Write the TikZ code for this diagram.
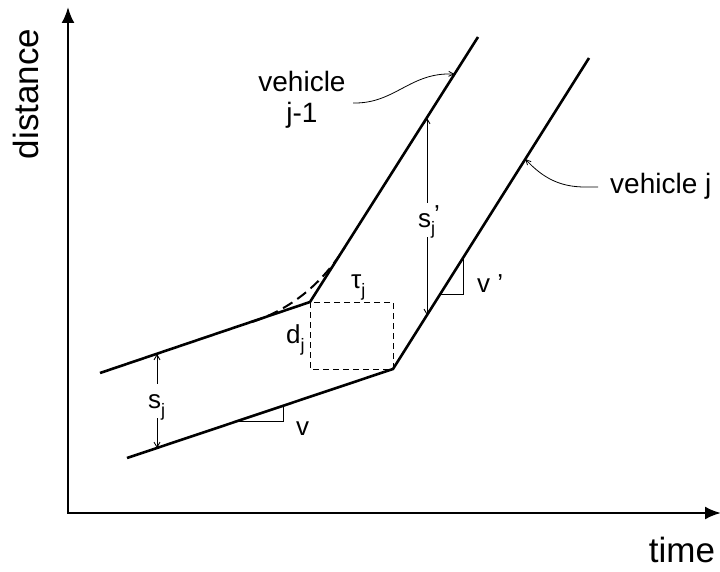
\documentclass[tikz,border=0pt]{standalone}
\usepackage{fontspec}
\setmainfont{Liberation Sans}
\usetikzlibrary{arrows.meta,calc}
\newcommand\lsub[1]{\rlap{\smash{\raisebox{-8pt}{\fontsize{18}{18}\selectfont #1}}}}
\newcommand\lprime{\rlap{\hspace{3pt}\smash{\raisebox{4pt}{’}}}}
\begin{document}
\begin{tikzpicture}[x=1pt,y=-1pt,
  traj/.style={line width=2.6pt,line join=miter},
  axisline/.style={line width=2.4pt,{Latex[length=16pt,width=13pt]}-{Latex[length=16pt,width=13pt]}},
  thinline/.style={line width=1pt},
  gaparrow/.style={line width=0.9pt,-{Straight Barb[length=5pt,width=6pt]}},
  leader/.style={line width=0.8pt,-{Straight Barb[length=5pt,width=5pt]}},
  lbl/.style={font=\fontsize{28}{31}\selectfont, inner sep=0pt},
  sym/.style={font=\fontsize{26}{30}\selectfont, inner xsep=0pt, inner ysep=10pt},
  axlbl/.style={font=\fontsize{35}{40}\selectfont, inner sep=0pt}]
\useasboundingbox (0,0) rectangle (720,572);
% axes
\coordinate (O) at (68,513);
\coordinate (Ytop) at (68,7);
\coordinate (Xend) at (721,513);
\draw[axisline] (Ytop) -- (O) -- (Xend);
\node[axlbl, rotate=90] (dist) at (26,94) {distance};
\node[axlbl] (time) at (682,550) {time};
% trajectories
\coordinate (L0) at (100,373);
\coordinate (LK) at (310,302);
\coordinate (L1) at (478,37);
\coordinate (F0) at (127,458);
\coordinate (FK) at (393,369);
\coordinate (F1) at (589,58);
\draw[traj] (L0) -- (LK) -- (L1);
\draw[traj] (F0) -- (FK) -- (F1);
% smooth dashed transition
\coordinate (C0) at (252,322);
\coordinate (C1) at (345,247);
\draw[line width=2pt, dash pattern=on 11pt off 6pt] (C0) .. controls (291,309) and (322,284) .. (C1);
% dashed rectangle
\draw[thinline, dash pattern=on 6pt off 4pt] (LK) rectangle (FK);
\node[sym, inner ysep=0pt, anchor=base west] (tau) at (351,288) {τ\lsub{j}};
\node[sym, inner ysep=0pt, anchor=base west] (d) at (286,343) {d\lsub{j}};
% spacing s_j
\coordinate (sjT) at (157,354);
\coordinate (sjB) at (157,448);
\node[sym, anchor=base west] (sj) at (148,408) {s\lsub{j}};
\draw[gaparrow] (sj.north -| sjT) -- (sjT);
\draw[gaparrow] (sj.south -| sjB) -- (sjB);
% spacing s_j'
\coordinate (spT) at (427,118);
\coordinate (spB) at (427,315);
\node[sym, anchor=base west] (sp) at (418,227) {s\lsub{j}\lprime};
\draw[gaparrow] (sp.north -| spT) -- (spT);
\draw[gaparrow] (sp.south -| spB) -- (spB);
% slope triangles
\coordinate (va) at (238,421);
\coordinate (vb) at (283,421);
\coordinate (vc) at (283,406);
\draw[thinline] (va) -- (vb) -- (vc);
\node[sym, inner ysep=0pt, anchor=base west] (v) at (296,435) {v};
\coordinate (wa) at (440,294);
\coordinate (wb) at (463,294);
\coordinate (wc) at (463,258);
\draw[thinline] (wa) -- (wb) -- (wc);
\node[sym, inner ysep=0pt, anchor=base west] (vp) at (477,292) {v ’};
% vehicle labels
\node[lbl, align=center] (vjm) at (302,100) {vehicle\\j-1};
\coordinate (vjmS) at (353,103);
\coordinate (vjmE) at ($(LK)!0.86!(L1)$);
\draw[leader] (vjmS) .. controls (395,104) and (410,72) .. (vjmE);
\node[lbl, anchor=base west] (vj) at (610,194) {vehicle j};
\coordinate (vjS) at (598,187);
\coordinate (vjE) at ($(FK)!0.675!(F1)$);
\draw[leader] (vjS) -- (585,187) .. controls (560,187) and (543,178) .. (vjE);
\end{tikzpicture}
\end{document}
